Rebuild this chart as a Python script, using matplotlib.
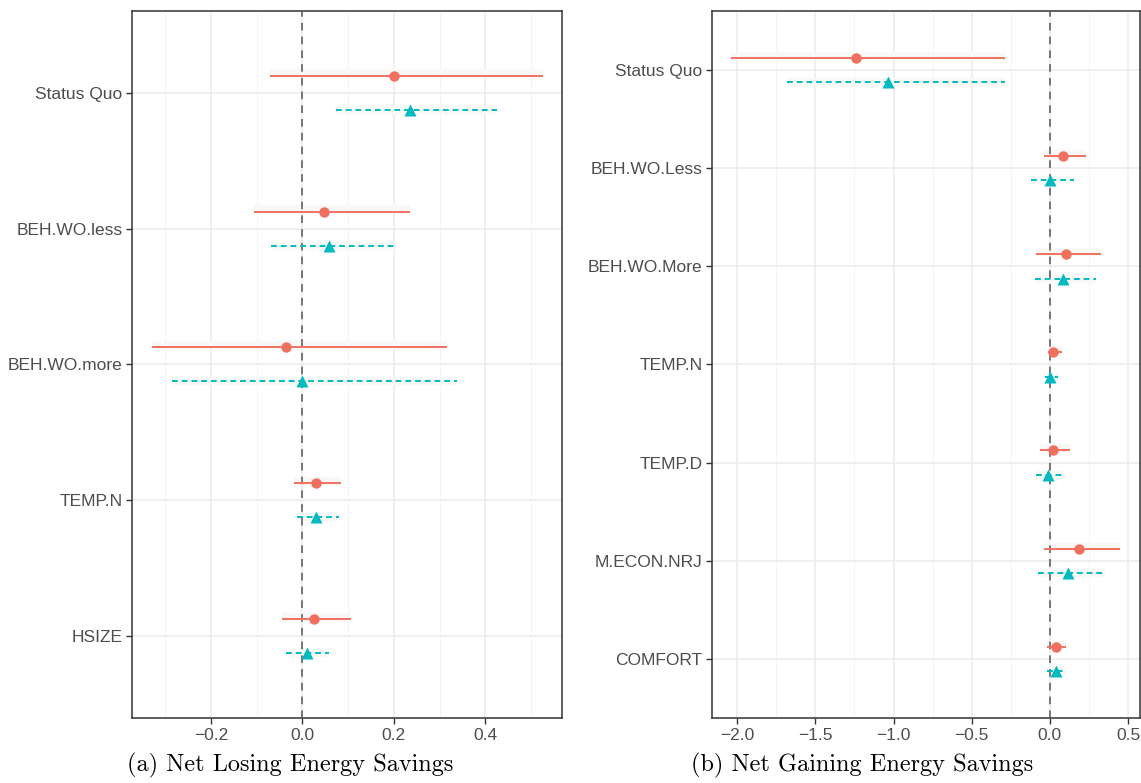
import numpy as np
import matplotlib
matplotlib.use("Agg")
import matplotlib.pyplot as plt

# dane - panel (a)
kat_a = ["Status Quo", "BEH.WO.less", "BEH.WO.more", "TEMP.N", "HSIZE"]
a_red_est = [0.201, 0.048, -0.035, 0.030, 0.026]
a_red_lo = [-0.070, -0.107, -0.330, -0.019, -0.044]
a_red_hi = [0.525, 0.236, 0.317, 0.085, 0.107]
a_cyan_est = [0.236, 0.057, -0.002, 0.030, 0.009]
a_cyan_lo = [0.074, -0.068, -0.286, -0.011, -0.035]
a_cyan_hi = [0.426, 0.201, 0.337, 0.079, 0.057]

# dane - panel (b)
kat_b = ["Status Quo", "BEH.WO.Less", "BEH.WO.More", "TEMP.N", "TEMP.D",
         "M.ECON.NRJ", "COMFORT"]
b_red_est = [-1.240, 0.083, 0.102, 0.020, 0.023, 0.186, 0.040]
b_red_lo = [-2.037, -0.040, -0.090, -0.015, -0.062, -0.037, -0.020]
b_red_hi = [-0.288, 0.230, 0.330, 0.075, 0.130, 0.451, 0.100]
b_cyan_est = [-1.036, 0.000, 0.085, 0.000, -0.010, 0.117, 0.040]
b_cyan_lo = [-1.680, -0.120, -0.095, -0.030, -0.090, -0.077, -0.020]
b_cyan_hi = [-0.288, 0.153, 0.294, 0.050, 0.090, 0.350, 0.100]

RED = "#F0705F"
CYAN = "#00BAC0"
dodge = 0.125


def panel(ax, kat, r_est, r_lo, r_hi, c_est, c_lo, c_hi, major, minor):
    n = len(kat)
    y = np.arange(n)[::-1].astype(float)
    for x in minor:
        ax.axvline(x, color="#f2f2f2", lw=0.6, zorder=0)
    for x in major:
        ax.axvline(x, color="#ebebeb", lw=1.1, zorder=0)
    for yy in y:
        ax.axhline(yy, color="#ebebeb", lw=1.1, zorder=0)
    ax.axvline(0, color="#555555", lw=1.1, ls=(0, (5, 4)), zorder=3)

    yr = y + dodge
    yc = y - dodge
    # jasne pasy pod odcinkami
    ax.hlines(yr + 0.02, r_lo, r_hi, color="#f8f9f7", lw=6, zorder=1)
    ax.hlines(yc, c_lo, c_hi, color="#f8f9f7", lw=6, zorder=1)
    ax.hlines(yr, r_lo, r_hi, color=RED, lw=1.4, zorder=4)
    ax.hlines(yc, c_lo, c_hi, color=CYAN, lw=1.4, linestyles=(0, (3, 2)), zorder=4)
    ax.plot(r_est, yr, "o", color=RED, ms=7.5, mec="none", zorder=5)
    ax.plot(c_est, yc, "^", color=CYAN, ms=8, mec="none", zorder=5)

    lo = min(min(r_lo), min(c_lo))
    hi = max(max(r_hi), max(c_hi))
    pad = 0.05 * (hi - lo)
    ax.set_xlim(lo - pad, hi + pad)
    ax.set_ylim(-0.6, n - 1 + 0.6)
    ax.set_yticks(y)
    ax.set_yticklabels(kat)
    ax.set_xticks(major)
    ax.set_xticklabels([("%.1f" % v).replace("-", "\u2212") for v in major])
    for s in ax.spines.values():
        s.set_color("#333333")
        s.set_linewidth(1.1)
    ax.tick_params(colors="#333333", length=4, width=1.0,
                   labelcolor="#4d4d4d", labelsize=12.5, pad=3)


plt.rcParams["font.family"] = ["Liberation Sans", "DejaVu Sans"]
fig = plt.figure(figsize=(11.41, 7.83), dpi=100)
ax1 = fig.add_axes([0.1157, 0.083, 0.3769, 0.903])
ax2 = fig.add_axes([0.624, 0.083, 0.375, 0.903])

panel(ax1, kat_a, a_red_est, a_red_lo, a_red_hi, a_cyan_est, a_cyan_lo, a_cyan_hi,
      [-0.2, 0.0, 0.2, 0.4], [-0.3, -0.1, 0.1, 0.3, 0.5])
panel(ax2, kat_b, b_red_est, b_red_lo, b_red_hi, b_cyan_est, b_cyan_lo, b_cyan_hi,
      [-2.0, -1.5, -1.0, -0.5, 0.0, 0.5], [-1.75, -1.25, -0.75, -0.25, 0.25])

fig.text(0.254, 0.022, "(a) Net Losing Energy Savings", family="cmr10",
         fontsize=17.5, ha="center", va="center")
fig.text(0.756, 0.022, "(b) Net Gaining Energy Savings", family="cmr10",
         fontsize=17.5, ha="center", va="center")

fig.savefig("out.png", dpi=100, facecolor="white")
